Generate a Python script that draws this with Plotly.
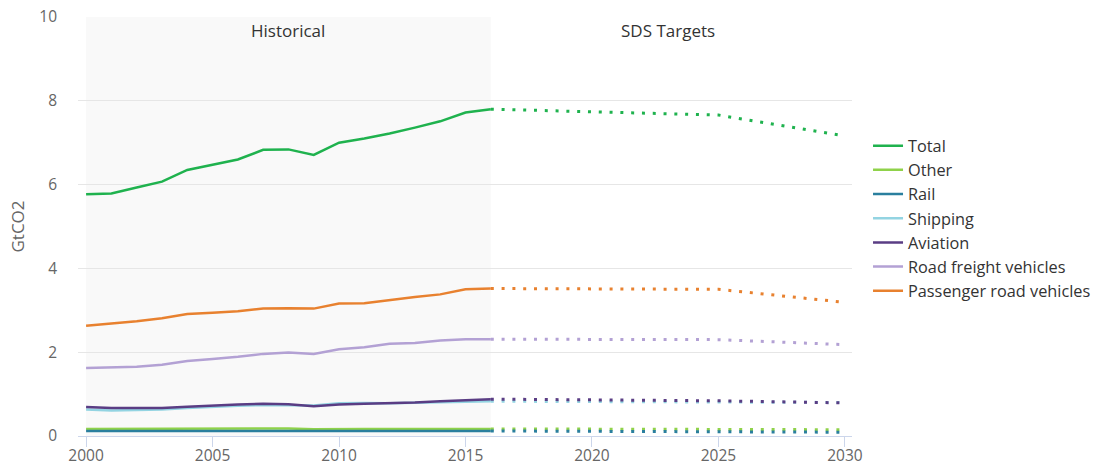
import plotly.graph_objects as go

years_hist = list(range(2000, 2017))
years_proj = [2016, 2025, 2030]

total_hist = [5.77, 5.79, 5.93, 6.07, 6.35, 6.47, 6.60, 6.83, 6.84, 6.71, 7.00, 7.10, 7.22, 7.36, 7.51, 7.72, 7.80]
total_proj = [7.80, 7.66, 7.16]

other_hist = [0.17, 0.17, 0.17, 0.17, 0.17, 0.17, 0.17, 0.18, 0.18, 0.16, 0.17, 0.17, 0.17, 0.17, 0.17, 0.17, 0.17]
other_proj = [0.17, 0.16, 0.15]

rail_hist = [0.12, 0.12, 0.12, 0.12, 0.12, 0.12, 0.12, 0.12, 0.12, 0.11, 0.12, 0.12, 0.12, 0.12, 0.12, 0.12, 0.12]
rail_proj = [0.12, 0.11, 0.09]

shipping_hist = [0.63, 0.61, 0.62, 0.63, 0.67, 0.70, 0.72, 0.74, 0.74, 0.73, 0.78, 0.79, 0.78, 0.79, 0.80, 0.82, 0.83]
shipping_proj = [0.83, 0.82, 0.80]

aviation_hist = [0.69, 0.67, 0.67, 0.67, 0.70, 0.73, 0.75, 0.77, 0.76, 0.71, 0.75, 0.77, 0.78, 0.80, 0.83, 0.86, 0.88]
aviation_proj = [0.88, 0.84, 0.79]

freight_hist = [1.62, 1.64, 1.65, 1.70, 1.79, 1.84, 1.89, 1.96, 1.99, 1.96, 2.07, 2.12, 2.20, 2.22, 2.28, 2.31, 2.31]
freight_proj = [2.31, 2.30, 2.18]

passenger_hist = [2.63, 2.68, 2.74, 2.81, 2.91, 2.94, 2.98, 3.04, 3.05, 3.04, 3.16, 3.17, 3.25, 3.32, 3.38, 3.50, 3.52]
passenger_proj = [3.52, 3.50, 3.19]

series_names = ["Total", "Other", "Rail", "Shipping", "Aviation", "Road freight vehicles", "Passenger road vehicles"]
series_colors = ["#1fb24e", "#8fd24a", "#2a7f9e", "#93d4e2", "#5a3d84", "#b3a1d4", "#e8812f"]
hist_data = [total_hist, other_hist, rail_hist, shipping_hist, aviation_hist, freight_hist, passenger_hist]
proj_data = [total_proj, other_proj, rail_proj, shipping_proj, aviation_proj, freight_proj, passenger_proj]

period_labels = ["Historical", "SDS Targets"]
period_ranges = [(2000, 2016), (2016, 2030)]

fig = go.Figure()

for name, color, h in zip(series_names, series_colors, hist_data):
    fig.add_trace(go.Scatter(x=years_hist, y=h, mode="lines", name=name, legendgroup=name,
                             line=dict(color=color, width=2.5), hoverinfo="x+y+name"))
for name, color, p in zip(series_names, series_colors, proj_data):
    fig.add_trace(go.Scatter(x=years_proj, y=p, mode="lines", name=name, legendgroup=name,
                             showlegend=False, line=dict(color=color, width=3, dash="3px,7.8px")))

fig.add_shape(type="rect", xref="x", yref="y", x0=period_ranges[0][0], x1=period_ranges[0][1],
              y0=0, y1=10, fillcolor="#f9f9f9", line=dict(width=0), layer="below")

for lab, (a, b) in zip(period_labels, period_ranges):
    fig.add_annotation(x=(a + b) / 2, y=9.67, xref="x", yref="y", text=lab, showarrow=False,
                       font=dict(family="Open Sans", size=17, color="#333333"))

fig.update_layout(
    width=1097, height=466,
    margin=dict(l=78, r=245, t=17, b=30, autoexpand=False),
    paper_bgcolor="white", plot_bgcolor="white",
    font=dict(family="Open Sans", color="#666666", size=15),
    showlegend=True,
    legend=dict(x=1.0207, y=0.519, xanchor="left", yanchor="middle", font=dict(size=16.3, color="#333333"),
                itemwidth=30, tracegroupgap=0, bgcolor="rgba(0,0,0,0)"),
    xaxis=dict(range=[1999.68, 2030.28], tickvals=[2000, 2005, 2010, 2015, 2020, 2025, 2030],
               showgrid=False, zeroline=False, showline=True, linecolor="#ccd6eb", linewidth=1,
               automargin=False, ticklabelstandoff=-5,
               ticks="outside", ticklen=10, tickcolor="#ccd6eb", tickfont=dict(size=15.5, color="#666666")),
    yaxis=dict(range=[0, 10], tickvals=[0, 2, 4, 6, 8, 10], showgrid=True, gridcolor="#e6e6e6",
               zeroline=False, showline=False, ticklabelstandoff=20, automargin=False,
               title=dict(text="GtCO2", font=dict(size=17, color="#666666"), standoff=10),
               tickfont=dict(size=15.5, color="#666666")),
)

fig.write_html("out.html", config={"displayModeBar": False, "responsive": False},
               post_script="document.body.style.margin='0';document.body.style.overflow='hidden';")
